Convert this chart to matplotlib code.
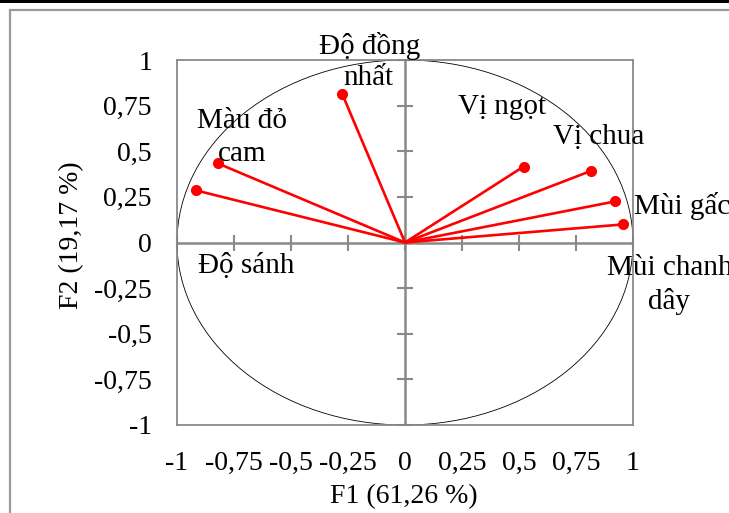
import matplotlib
matplotlib.use("Agg")
import matplotlib.pyplot as plt
from matplotlib.patches import Circle, Rectangle

# Dữ liệu vòng tròn tương quan (F1, F2)
bien = ["Độ đồng nhất", "Màu đỏ cam", "Độ sánh", "Vị ngọt", "Vị chua", "Mùi gấc", "Mùi chanh dây"]
f1 = [-0.276, -0.820, -0.915, 0.520, 0.815, 0.921, 0.956]
f2 = [0.816, 0.433, 0.285, 0.416, 0.392, 0.225, 0.099]

tick_vals = [-1, -0.75, -0.5, -0.25, 0, 0.25, 0.5, 0.75, 1]
tick_labels = ["-1", "-0,75", "-0,5", "-0,25", "0", "0,25", "0,5", "0,75", "1"]

x_title = "F1 (61,26 %)"
y_title = "F2 (19,17 %)"

plt.rcParams['font.family'] = ['Liberation Serif', 'DejaVu Serif']
FS = 20
FS_LBL = 21
GRAY = '#898989'

W, H = 729, 513
fig = plt.figure(figsize=(W / 100, H / 100), dpi=100)
ax = fig.add_axes([177 / W, 1 - 425 / H, 456 / W, 365 / H])
ax.set_xlim(-1, 1)
ax.set_ylim(-1, 1)

for s in ax.spines.values():
    s.set_color(GRAY)
    s.set_linewidth(1.3)

# nhãn trục
ax.set_xticks(tick_vals, tick_labels)
ax.set_yticks(tick_vals, tick_labels)
ax.tick_params(axis='x', length=0, pad=19, labelsize=FS)
ax.tick_params(axis='y', length=0, pad=18, labelsize=FS)

# trục ở giữa với vạch chia
ax.axhline(0, color=GRAY, lw=1.8, zorder=1)
ax.axvline(0, color=GRAY, lw=1.8, zorder=1)
ax.plot(tick_vals, [0] * len(tick_vals), ls='none', marker='|', ms=12,
        mew=1.5, color=GRAY, zorder=1, clip_on=False)
ax.plot([0] * len(tick_vals), tick_vals, ls='none', marker='_', ms=12,
        mew=1.5, color=GRAY, zorder=1, clip_on=False)

# vòng tròn
ax.add_patch(Circle((0, 0), 1, fill=False, ec='black', lw=0.6, zorder=2))

# vectơ
for x, y in zip(f1, f2):
    ax.plot([0, x], [0, y], color='red', lw=1.9, zorder=3, solid_capstyle='butt')
ax.plot(f1, f2, ls='none', marker='o', ms=7, color='red', zorder=4)

# nhãn biến (vị trí từng dòng)
label_lines = [
    ("Độ đồng", -0.156, 1.034, 'center'),
    ("nhất", -0.160, 0.864, 'center'),
    ("Màu đỏ", -0.713, 0.628, 'center'),
    ("cam", -0.713, 0.448, 'center'),
    ("Vị ngọt", 0.424, 0.705, 'center'),
    ("Vị chua", 0.849, 0.541, 'center'),
    ("Mùi gấc", 1.003, 0.157, 'left'),
    ("Độ sánh", -0.906, -0.166, 'left'),
    ("Mùi chanh", 0.885, -0.177, 'left'),
    ("dây", 1.157, -0.363, 'center'),
]
for txt, x, y, ha in label_lines:
    ax.text(x, y, txt, fontsize=FS_LBL, ha=ha, va='baseline', zorder=5)

fig.text(404 / W, 1 - 497 / H, x_title, fontsize=FS, ha='center', va='center')
fig.text(72 / W, 1 - 235 / H, y_title, fontsize=FS, ha='center', va='center',
         rotation=90)

# khung ngoài
fig.add_artist(Rectangle((10 / W, -0.1), 1, 1 - 10 / H + 0.1, transform=fig.transFigure,
                         fill=False, ec='#9a9a9a', lw=1.6))
fig.add_artist(Rectangle((0, 1 - 3 / H), 1, 3 / H, transform=fig.transFigure,
                         fc='black', ec='none'))

fig.savefig("out.png", dpi=100)
